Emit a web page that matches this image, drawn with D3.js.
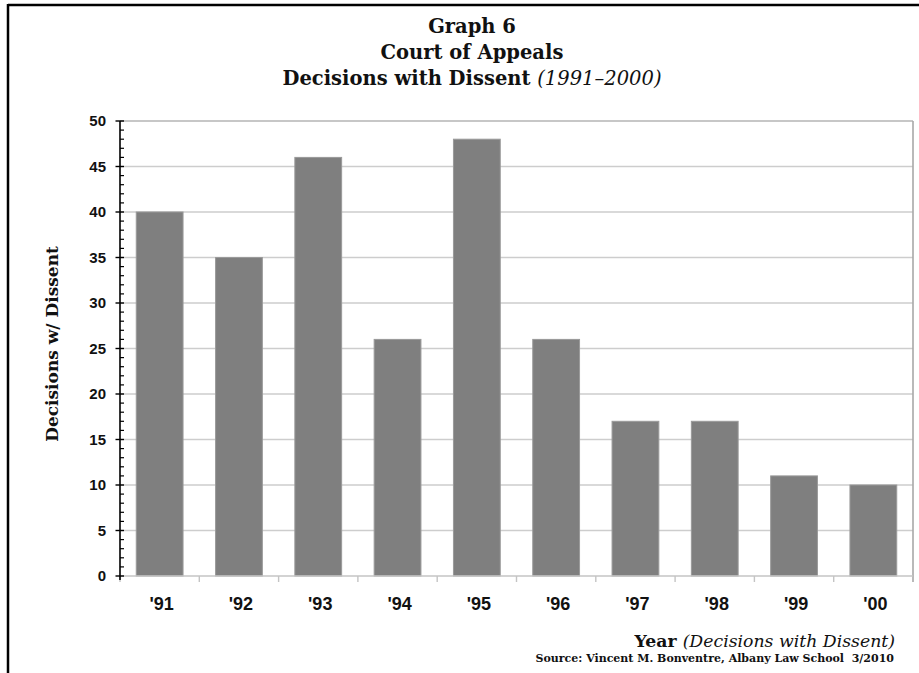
<!DOCTYPE html>
<html>
<head>
<meta charset="utf-8">
<script src="https://cdn.jsdelivr.net/npm/d3@7"></script>
<style>
  html, body { margin: 0; padding: 0; background: #fff; }
  svg { display: block; }
  text { white-space: pre; }
</style>
</head>
<body>
<script>
// ---- data ----
const categories = ["'91", "'92", "'93", "'94", "'95", "'96", "'97", "'98", "'99", "'00"];
const values = [40, 35, 46, 26, 48, 26, 17, 17, 11, 10];
const yTickLabels = [0, 5, 10, 15, 20, 25, 30, 35, 40, 45, 50];
const titleLines = ["Graph 6", "Court of Appeals", "Decisions with Dissent "];
const titleItalic = "(1991–2000)";
const yTitle = "Decisions w/ Dissent";
const xTitleBold = "Year ";
const xTitleItalic = "(Decisions with Dissent)";
const sourceText = "Source: Vincent M. Bonventre, Albany Law School  3/2010";

// ---- layout ----
const W = 919, H = 673;
const plot = { left: 120, right: 913, top: 121, bottom: 576 };
const serif = "'DejaVu Serif', serif";
const sans = "'Liberation Sans', Arial, sans-serif";

const svg = d3.select("body").append("svg").attr("width", W).attr("height", H);
svg.append("rect").attr("width", W).attr("height", H).attr("fill", "#fff");

// frame (top and left borders)
svg.append("line").attr("x1", 8).attr("x2", W).attr("y1", 5).attr("y2", 5)
  .attr("stroke", "#000").attr("stroke-width", 2.5);
svg.append("line").attr("x1", 8).attr("x2", 8).attr("y1", 4).attr("y2", H)
  .attr("stroke", "#000").attr("stroke-width", 2.5);

const x = d3.scaleBand().domain(categories).range([plot.left, plot.right])
  .paddingInner(0.41).paddingOuter(0.205);
const y = d3.scaleLinear().domain([0, 50]).range([plot.bottom, plot.top]);

// gridlines
svg.append("g").selectAll("line").data(yTickLabels.filter(d => d > 0)).join("line")
  .attr("x1", plot.left).attr("x2", plot.right)
  .attr("y1", d => y(d)).attr("y2", d => y(d))
  .attr("stroke", d => d === 50 ? "#b4b4b4" : "#cdcdcd").attr("stroke-width", 1.6);

// right border of plot
svg.append("line").attr("x1", plot.right).attr("x2", plot.right)
  .attr("y1", plot.top).attr("y2", plot.bottom + 6)
  .attr("stroke", "#a8a8a8").attr("stroke-width", 1.6);

// bars
svg.append("g").selectAll("rect").data(values).join("rect")
  .attr("x", (d, i) => x(categories[i]))
  .attr("width", x.bandwidth())
  .attr("y", d => y(d))
  .attr("height", d => y(0) - y(d))
  .attr("fill", "#7f7f7f")
  .attr("stroke", "#9a9a9a").attr("stroke-width", 1);

// x axis line and category ticks
svg.append("line").attr("x1", plot.left).attr("x2", plot.right)
  .attr("y1", y(0)).attr("y2", y(0)).attr("stroke", "#c4c4c4").attr("stroke-width", 1.6);
const step = x.step();
svg.append("g").selectAll("line").data(categories).join("line")
  .attr("x1", d => x(d) - x.paddingInner() * step / 2)
  .attr("x2", d => x(d) - x.paddingInner() * step / 2)
  .attr("y1", y(0)).attr("y2", y(0) + 6)
  .attr("stroke", "#c4c4c4").attr("stroke-width", 1.4);

// x labels
svg.append("g").selectAll("text").data(categories).join("text")
  .attr("x", d => x(d) + x.bandwidth() / 2 + 2)
  .attr("y", 610)
  .attr("text-anchor", "middle")
  .attr("font-family", sans).attr("font-weight", "bold").attr("font-size", 18)
  .attr("fill", "#111")
  .text(d => d);

// y axis
svg.append("line").attr("x1", plot.left).attr("x2", plot.left)
  .attr("y1", plot.top).attr("y2", plot.bottom + 4)
  .attr("stroke", "#000").attr("stroke-width", 1.6);
const minorTicks = d3.range(0, 51, 1).filter(v => v % 5 !== 0);
svg.append("g").selectAll("line").data(minorTicks).join("line")
  .attr("x1", plot.left).attr("x2", plot.left + 4)
  .attr("y1", d => y(d)).attr("y2", d => y(d))
  .attr("stroke", "#000").attr("stroke-width", 1.2);
svg.append("g").selectAll("line").data(yTickLabels).join("line")
  .attr("x1", plot.left - 4.5).attr("x2", plot.left + 4)
  .attr("y1", d => y(d)).attr("y2", d => y(d))
  .attr("stroke", "#000").attr("stroke-width", 1.4);
svg.append("g").selectAll("text").data(yTickLabels).join("text")
  .attr("x", 106).attr("y", d => y(d))
  .attr("dy", "0.36em")
  .attr("text-anchor", "end")
  .attr("font-family", sans).attr("font-weight", "bold").attr("font-size", 15)
  .attr("fill", "#111")
  .text(d => d);

// title
const title = svg.append("text").attr("text-anchor", "middle")
  .attr("font-family", serif).attr("font-weight", "bold").attr("font-size", 19.5)
  .attr("fill", "#111");
titleLines.forEach((t, i) => {
  title.append("tspan").attr("x", 472).attr("y", 33 + i * 26).text(t);
});
title.append("tspan").attr("font-style", "italic").attr("font-weight", "normal").text(titleItalic);

// y axis title
svg.append("text")
  .attr("transform", "translate(58,344) rotate(-90)")
  .attr("text-anchor", "middle")
  .attr("font-family", serif).attr("font-weight", "bold").attr("font-size", 17)
  .attr("fill", "#111")
  .text(yTitle);

// x axis title
const xt = svg.append("text").attr("x", 895).attr("y", 647).attr("text-anchor", "end")
  .attr("font-family", serif).attr("font-size", 17.3).attr("fill", "#111");
xt.append("tspan").attr("font-weight", "bold").text(xTitleBold);
xt.append("tspan").attr("font-style", "italic").text(xTitleItalic);

// source
svg.append("text").attr("x", 894).attr("y", 662).attr("text-anchor", "end")
  .attr("font-family", serif).attr("font-weight", "bold").attr("font-size", 11)
  .attr("fill", "#111")
  .text(sourceText);
</script>
</body>
</html>
